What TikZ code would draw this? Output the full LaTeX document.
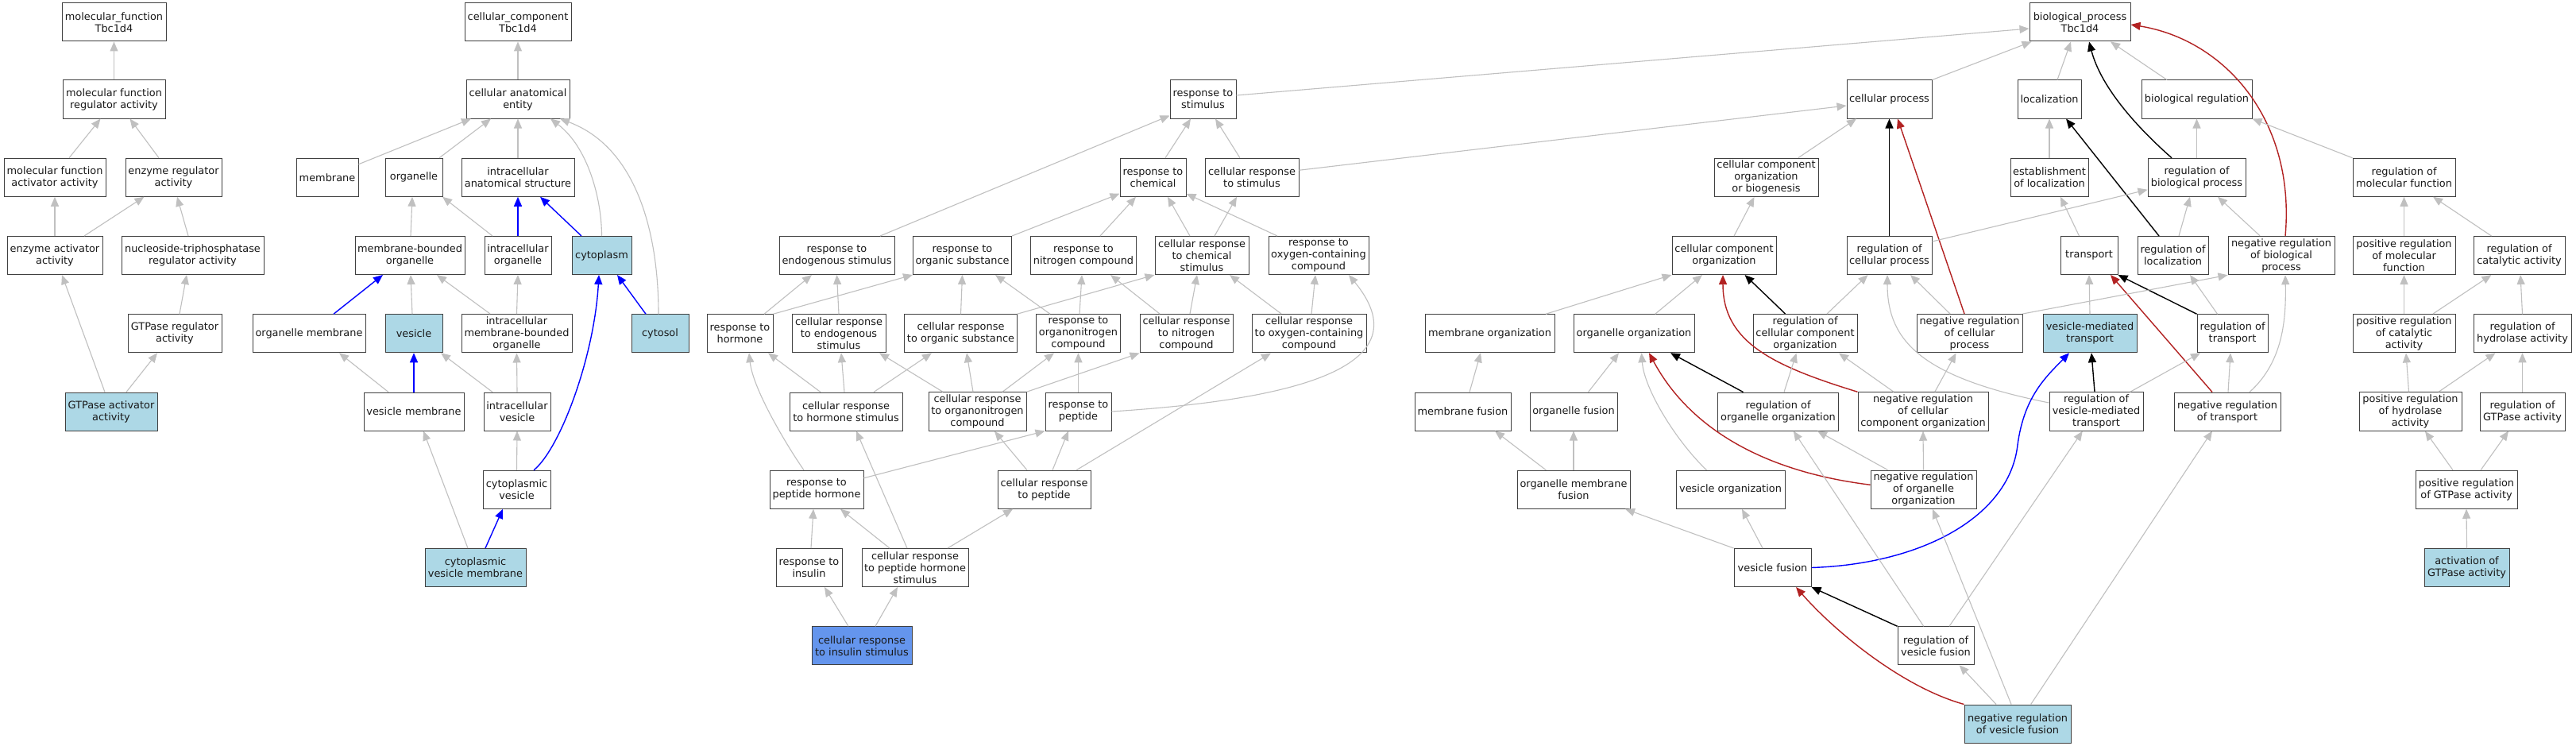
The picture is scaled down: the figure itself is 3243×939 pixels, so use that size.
\documentclass[tikz,border=0pt]{standalone}
\usepackage{fontspec}
\setmainfont{DejaVu Sans}
\usetikzlibrary{arrows.meta}
\definecolor{lb}{HTML}{ADD8E6}
\definecolor{cfb}{HTML}{6495ED}
\definecolor{eg}{HTML}{C0C0C0}
\definecolor{fr}{HTML}{B22222}
\tikzset{
  box/.style={draw=black!75, line width=1pt, fill=white, align=center, inner xsep=3pt, inner ysep=3pt,
    minimum height=48pt, font=\fontsize{12.9}{15}\selectfont, text=black!90},
  lbbox/.style={box, fill=lb},
  cfbox/.style={box, fill=cfb},
  ge/.style={draw=eg, line width=1.1pt, -{Triangle[length=12pt,width=10pt]}},
  be/.style={draw=blue, line width=1.4pt, -{Triangle[length=12pt,width=10pt]}},
  ke/.style={draw=black, line width=1.4pt, -{Triangle[length=12pt,width=10pt]}},
  re/.style={draw=fr, line width=1.4pt, -{Triangle[length=12pt,width=10pt]}},
}
\newcommand\Nd[6][box]{\node[#1,minimum width=#5pt] (#2) at (#3,#4) {#6};}
\newcommand\Ed[5]{\draw[#1] ([xshift=#3pt]#2.north) -- ([xshift=#5pt]#4.south);}
\begin{document}
\begin{tikzpicture}[x=1pt,y=-1pt]
\useasboundingbox[fill=white] (0,0) rectangle (3243,939);
% ---------- molecular function
\Nd{mfT}{143.5}{28}{131}{molecular\_function\\Tbc1d4}
\Nd{mfra}{143.5}{125}{129}{molecular function\\regulator activity}
\Nd{mfaa}{69}{223.25}{128}{molecular function\\activator activity}
\Nd{era}{218.5}{223.25}{121}{enzyme regulator\\activity}
\Nd{eaa}{69}{321.5}{120}{enzyme activator\\activity}
\Nd{ntra}{242.5}{321.5}{179}{nucleoside-triphosphatase\\regulator activity}
\Nd{gra}{220}{419.75}{118}{GTPase regulator\\activity}
\Nd[lbbox]{gaa}{140}{518}{116}{GTPase activator\\activity}
% ---------- cellular component
\Nd{ccT}{652}{28}{134}{cellular\_component\\Tbc1d4}
\Nd{cae}{652}{125}{130}{cellular anatomical\\entity}
\Nd{memb}{412}{223.25}{78}{membrane}
\Nd{org}{521}{223.25}{72}{organelle}
\Nd{ias}{652}{223.25}{142}{intracellular\\anatomical structure}
\Nd{mbo}{516}{321.5}{138}{membrane-bounded\\organelle}
\Nd{io}{652}{321.5}{84}{intracellular\\organelle}
\Nd[lbbox]{cyto}{757.5}{321.5}{75}{cytoplasm}
\Nd{om}{389}{419.75}{142}{organelle membrane}
\Nd[lbbox]{ves}{521}{419.75}{72}{vesicle}
\Nd{imbo}{650.5}{419.75}{139}{intracellular\\membrane-bounded\\organelle}
\Nd[lbbox]{cytosol}{831}{419.75}{72}{cytosol}
\Nd{vm}{521}{518}{126}{vesicle membrane}
\Nd{iv}{651}{518}{84}{intracellular\\vesicle}
\Nd{cv}{650.5}{616.25}{85}{cytoplasmic\\vesicle}
\Nd[lbbox]{cvm}{598.5}{714.5}{127}{cytoplasmic\\vesicle membrane}
% ---------- response
\Nd{res}{1053.5}{321.5}{145}{response to\\endogenous stimulus}
\Nd{ros}{1211.5}{321.5}{123}{response to\\organic substance}
\Nd{rth}{931.5}{419.75}{83}{response to\\hormone}
\Nd{cres}{1056}{419.75}{118}{cellular response\\to endogenous\\stimulus}
\Nd{cros}{1209.5}{419.75}{141}{cellular response\\to organic substance}
\Nd{crhs}{1065}{518}{142}{cellular response\\to hormone stimulus}
\Nd{crorgN}{1230.5}{518}{123}{cellular response\\to organonitrogen\\compound}
\Nd{rph}{1028}{616.25}{118}{response to\\peptide hormone}
\Nd{rti}{1018.5}{714.5}{83}{response to\\insulin}
\Nd{crphs}{1152}{714.5}{134}{cellular response\\to peptide hormone\\stimulus}
\Nd[cfbox]{cris}{1085}{812.75}{126}{cellular response\\to insulin stimulus}
\Nd{rts}{1514.5}{125}{83}{response to\\stimulus}
\Nd{rtc}{1451.5}{223.25}{83}{response to\\chemical}
\Nd{crts}{1576}{223.25}{118}{cellular response\\to stimulus}
\Nd{rnc}{1364}{321.5}{132}{response to\\nitrogen compound}
\Nd{crcs}{1513}{321.5}{118}{cellular response\\to chemical\\stimulus}
\Nd{rocc}{1660}{321.5}{126}{response to\\oxygen-containing\\compound}
\Nd{ronc}{1357.5}{419.75}{105}{response to\\organonitrogen\\compound}
\Nd{crnc}{1493.5}{419.75}{117}{cellular response\\to nitrogen\\compound}
\Nd{crocc}{1648}{419.75}{144}{cellular response\\to oxygen-containing\\compound}
\Nd{rtp}{1357.5}{518}{83}{response to\\peptide}
\Nd{crp}{1314.5}{616.25}{117}{cellular response\\to peptide}
% ---------- biological process
\Nd{bpT}{2618.5}{28}{127}{biological\_process\\Tbc1d4}
\Nd{cp}{2378.5}{125}{107}{cellular process}
\Nd{loc}{2580}{125}{80}{localization}
\Nd{bioreg}{2765.5}{125}{139}{biological regulation}
\Nd{ccob}{2223.5}{223.25}{131}{cellular component\\organization\\or biogenesis}
\Nd{eol}{2580}{223.25}{98}{establishment\\of localization}
\Nd{rbp}{2765.5}{223.25}{123}{regulation of\\biological process}
\Nd{rmf}{3026.5}{223.25}{129}{regulation of\\molecular function}
\Nd{cco}{2170.5}{321.5}{131}{cellular component\\organization}
\Nd{rcp}{2378.5}{321.5}{107}{regulation of\\cellular process}
\Nd{transport}{2630}{321.5}{72}{transport}
\Nd{rloc}{2735.5}{321.5}{89}{regulation of\\localization}
\Nd{nrbp}{2872}{321.5}{134}{negative regulation\\of biological\\process}
\Nd{prmf}{3026.5}{321.5}{129}{positive regulation\\of molecular\\function}
\Nd{rca}{3171.5}{321.5}{115}{regulation of\\catalytic activity}
\Nd{mo}{1875.5}{419.75}{163}{membrane organization}
\Nd{oo}{2057}{419.75}{152}{organelle organization}
\Nd{rccorg}{2272.5}{419.75}{131}{regulation of\\cellular component\\organization}
\Nd{nrcp}{2479.5}{419.75}{133}{negative regulation\\of cellular\\process}
\Nd[lbbox]{vmt}{2631}{419.75}{118}{vesicle-mediated\\transport}
\Nd{rtransport}{2810.5}{419.75}{89}{regulation of\\transport}
\Nd{prca}{3026.5}{419.75}{129}{positive regulation\\of catalytic\\activity}
\Nd{rha}{3175.5}{419.75}{123}{regulation of\\hydrolase activity}
\Nd{mf}{1841.5}{518}{121}{membrane fusion}
\Nd{ofu}{1981}{518}{110}{organelle fusion}
\Nd{roo}{2238.5}{518}{152}{regulation of\\organelle organization}
\Nd{nrcco}{2421}{518}{164}{negative regulation\\of cellular\\component organization}
\Nd{rvmt}{2639}{518}{118}{regulation of\\vesicle-mediated\\transport}
\Nd{nrt}{2804}{518}{134}{negative regulation\\of transport}
\Nd{prha}{3034.5}{518}{129}{positive regulation\\of hydrolase\\activity}
\Nd{rGa}{3175.5}{518}{107}{regulation of\\GTPase activity}
\Nd{omf}{1981}{616.25}{142}{organelle membrane\\fusion}
\Nd{vo}{2178.5}{616.25}{137}{vesicle organization}
\Nd{nroo}{2421.5}{616.25}{133}{negative regulation\\of organelle\\organization}
\Nd{prGa}{3105}{616.25}{128}{positive regulation\\of GTPase activity}
\Nd{vf}{2231.5}{714.5}{97}{vesicle fusion}
\Nd[lbbox]{aGa}{3105.5}{714.5}{107}{activation of\\GTPase activity}
\Nd{rvf}{2437}{812.75}{96}{regulation of\\vesicle fusion}
\Nd[lbbox]{nrvf}{2540}{911}{134}{negative regulation\\of vesicle fusion}

% ================= edges: molecular function
\Ed{ge}{mfra}{0}{mfT}{0}
\Ed{ge}{mfaa}{18}{mfra}{-17}
\Ed{ge}{era}{-18.5}{mfra}{20}
\Ed{ge}{eaa}{0}{mfaa}{0}
\Ed{ge}{eaa}{37}{era}{-37}
\Ed{ge}{ntra}{-5.5}{era}{4.5}
\Ed{ge}{gra}{6}{ntra}{-7.5}
\Ed{ge}{gaa}{-8}{eaa}{9}
\Ed{ge}{gaa}{19}{gra}{-22}
% ================= edges: cellular component
\Ed{ge}{cae}{0}{ccT}{0}
\draw[ge] ([yshift=-8pt]memb.north east) -- ([xshift=-59pt]cae.south);
\Ed{ge}{org}{32}{cae}{-34}
\Ed{ge}{ias}{0}{cae}{0}
\draw[ge] (cyto.north) .. controls (757.5,250) and (740,185) .. ([xshift=41pt]cae.south);
\draw[ge] ([xshift=-2pt]cytosol.north) .. controls (829,290) and (800,185) .. ([xshift=53pt]cae.south);
\Ed{ge}{mbo}{1}{org}{-2}
\Ed{ge}{io}{-32}{org}{36}
\Ed{be}{io}{0}{ias}{0}
\Ed{be}{cyto}{-25.5}{ias}{28}
\Ed{be}{om}{31}{mbo}{-34}
\Ed{ge}{ves}{-2}{mbo}{1}
\Ed{ge}{imbo}{-33.5}{mbo}{34}
\Ed{ge}{imbo}{0}{io}{0}
\Ed{be}{cytosol}{-18}{cyto}{19.5}
\Ed{ge}{vm}{-32}{om}{38}
\Ed{be}{vm}{0}{ves}{0}
\Ed{ge}{iv}{-31}{ves}{34}
\Ed{ge}{iv}{0}{imbo}{0}
\Ed{ge}{cv}{0}{iv}{0}
\draw[be] ([xshift=21.5pt]cv.north) .. controls (705,565) and (748,450) .. ([xshift=-3.5pt]cyto.south);
\Ed{ge}{cvm}{-9.5}{vm}{12}
\Ed{be}{cvm}{12.5}{cv}{-17.5}
% ================= edges: response
\draw[ge] ([xshift=54.5pt]res.north) -- ([yshift=4pt]rts.south west);
\Ed{ge}{rtc}{15.5}{rts}{-15.5}
\Ed{ge}{crts}{-15}{rts}{15.5}
\draw[ge] ([yshift=5pt]rts.east) -- ([yshift=-8pt]bpT.west);
\draw[ge] ([yshift=9pt]crts.east) -- ([yshift=-8pt]cp.west);
\draw[ge] (ros.north east) -- ([yshift=4pt]rtc.south west);
\Ed{ge}{rnc}{21}{rtc}{-21.5}
\Ed{ge}{crcs}{-15}{rtc}{18.5}
\Ed{ge}{crcs}{16}{crts}{-19}
\draw[ge] ([xshift=-52pt]rocc.north) -- ([yshift=4pt]rtc.south east);
\Ed{ge}{rth}{30.5}{res}{-31.5}
\draw[ge] (rth.north east) -- (ros.south west);
\Ed{ge}{cres}{0}{res}{0}
\Ed{ge}{cros}{0}{ros}{0}
\draw[ge] (cros.north east) -- (crcs.south west);
\Ed{ge}{ronc}{-35.5}{ros}{41.5}
\Ed{ge}{ronc}{1.5}{rnc}{-2}
\Ed{ge}{crnc}{-33.5}{rnc}{34}
\Ed{ge}{crnc}{4.5}{crcs}{-6}
\Ed{ge}{crocc}{-35}{crcs}{35}
\Ed{ge}{crocc}{3}{rocc}{-4}
\Ed{ge}{crhs}{-32}{rth}{35.5}
\Ed{ge}{crhs}{-2}{cres}{3}
\Ed{ge}{crhs}{35}{cros}{-36.5}
\Ed{ge}{crorgN}{-43.5}{cres}{51}
\Ed{ge}{crorgN}{-5.5}{cros}{7.5}
\Ed{ge}{crorgN}{31.5}{ronc}{-30.5}
\draw[ge] (crorgN.north east) -- (crnc.south west);
\draw[ge] ([xshift=-16pt]rph.north) .. controls (990,560) and (948,490) .. ([xshift=11.5pt]rth.south);
\draw[ge] ([yshift=-10pt]rph.north east) -- (rtp.south west);
\Ed{ge}{rtp}{0}{ronc}{0}
\draw[ge] (rtp.east) .. controls (1600,505) and (1800,470) .. ([xshift=38pt]rocc.south);
\Ed{ge}{crp}{-21.5}{crorgN}{21.5}
\Ed{ge}{crp}{10.5}{rtp}{-12.5}
\Ed{ge}{crp}{40.5}{crocc}{-48}
\Ed{ge}{rti}{2.5}{rph}{-4}
\Ed{ge}{crphs}{-32}{rph}{30}
\Ed{ge}{crphs}{-10}{crhs}{13}
\Ed{ge}{crphs}{41}{crp}{-39.5}
\Ed{ge}{cris}{-17}{rti}{19.5}
\Ed{ge}{cris}{17}{crphs}{-22}
% ================= edges: biological process
\draw[ge] (cp.north east) -- ([xshift=3pt]bpT.south west);
\Ed{ge}{loc}{10}{bpT}{-11.5}
\Ed{ge}{bioreg}{-37.5}{bpT}{38.5}
\draw[ke] ([xshift=-31.5pt]rbp.north) .. controls (2690,160) and (2645,110) .. ([xshift=11.5pt]bpT.south);
\draw[re] ([xshift=5pt]nrbp.north) .. controls (2890,150) and (2800,50) .. ([yshift=-3pt]bpT.east);
\Ed{ge}{ccob}{40.5}{cp}{-41.5}
\Ed{ke}{rcp}{0}{cp}{0}
\Ed{re}{nrcp}{-6.5}{cp}{10.5}
\Ed{ge}{eol}{0}{loc}{0}
\Ed{ke}{rloc}{-17.5}{loc}{21}
\Ed{ge}{rbp}{0}{bioreg}{0}
\Ed{ge}{transport}{-12.5}{eol}{14}
\draw[ge] ([yshift=-7pt]rcp.north east) -- ([yshift=9pt]rbp.south west);
\Ed{ge}{rloc}{7.5}{rbp}{-8.5}
\draw[ge] (rmf.north west) -- (bioreg.south east);
\Ed{ge}{cco}{12.5}{ccob}{-15}
\Ed{ge}{rccorg}{27.5}{rcp}{-27}
\Ed{ge}{nrcp}{-24.5}{rcp}{26.5}
\draw[ge] ([yshift=11pt]rvmt.west) .. controls (2420,475) and (2376,430) .. ([xshift=-2.5pt]rcp.south);
\Ed{ge}{vmt}{0}{transport}{0}
\draw[ke] (rtransport.north west) -- (transport.south east);
\Ed{re}{nrt}{-19}{transport}{27}
\draw[ge] (nrcp.north east) -- (nrbp.south west);
\Ed{ge}{nrbp}{-27}{rbp}{26.5}
\draw[ge] ([xshift=28pt]nrt.north) .. controls (2875,455) and (2878,400) .. ([xshift=5pt]nrbp.south);
\Ed{ge}{nrt}{1}{rtransport}{-2.5}
\Ed{ge}{rvmt}{42.7}{rtransport}{-40.5}
\Ed{ke}{rvmt}{-2}{vmt}{2}
\Ed{ge}{rtransport}{-19}{rloc}{21.5}
\draw[be] (vf.east) .. controls (2420,710) and (2530,650) .. (2540,560) .. controls (2548,500) and (2575,475) .. ([xshift=-26pt]vmt.south);
\Ed{ge}{prmf}{0}{rmf}{0}
\Ed{ge}{rca}{-35}{rmf}{36.5}
\Ed{ge}{prca}{0}{prmf}{0}
\Ed{ge}{prca}{36.5}{rca}{-35}
\Ed{ge}{rha}{0}{rca}{1.5}
\Ed{ge}{prha}{-2}{prca}{2.5}
\Ed{ge}{prha}{35.5}{rha}{-34}
\Ed{ge}{rGa}{0}{rha}{0}
\Ed{ge}{prGa}{-17}{prha}{18.5}
\Ed{ge}{prGa}{18}{rGa}{-17.5}
\Ed{ge}{aGa}{0}{prGa}{0}
\draw[ge] ([xshift=70.5pt]mo.north) -- (cco.south west);
\Ed{ge}{oo}{26.7}{cco}{-27.5}
\Ed{ke}{rccorg}{-25}{cco}{26}
\draw[re] (nrcco.north west) .. controls (2230,460) and (2169,430) .. ([xshift=-1.5pt]cco.south);
\Ed{ge}{ofu}{18.5}{oo}{-19}
\draw[ge] ([xshift=-30pt]vo.north) .. controls (2110,555) and (2070,490) .. ([xshift=9.5pt]oo.south);
\draw[re] ([yshift=6pt]nroo.west) .. controls (2230,595) and (2130,545) .. ([xshift=19pt]oo.south);
\Ed{ke}{roo}{-44}{oo}{46}
\Ed{ge}{roo}{7.5}{rccorg}{-11}
\Ed{ge}{nrcco}{-37}{rccorg}{42.5}
\Ed{ge}{nrcco}{14.8}{nrcp}{-17}
\Ed{ge}{nroo}{-45}{roo}{49.5}
\Ed{ge}{nroo}{0}{nrcco}{0}
\Ed{ge}{rvf}{-15.3}{roo}{19.3}
\Ed{ge}{omf}{0}{ofu}{0}
\Ed{ge}{omf}{-34.6}{mf}{40.5}
\Ed{ge}{mf}{8.5}{mo}{-11.5}
\draw[ge] (vf.north west) -- ([xshift=65pt]omf.south);
\Ed{ge}{vf}{-12.5}{vo}{14.5}
\draw[ke] (rvf.north west) -- (vf.south east);
\draw[re] (nrvf.north west) .. controls (2395,865) and (2310,795) .. ([xshift=29.5pt]vf.south);
\Ed{ge}{nrvf}{-27}{rvf}{29.7}
\Ed{ge}{nrvf}{-8}{nroo}{11.5}
\Ed{ge}{nrvf}{16.7}{nrt}{-19}
\Ed{ge}{rvf}{17}{rvmt}{-17.3}
\end{tikzpicture}
\end{document}
